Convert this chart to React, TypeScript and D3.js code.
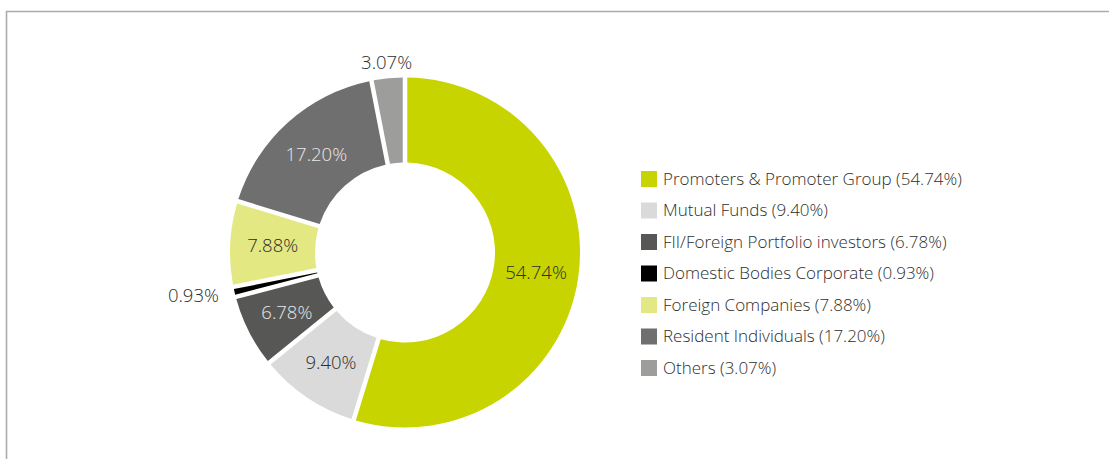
import * as d3 from "d3";

const categories = [
  "Promoters & Promoter Group",
  "Mutual Funds",
  "FII/Foreign Portfolio investors",
  "Domestic Bodies Corporate",
  "Foreign Companies",
  "Resident Individuals",
  "Others",
];
const shares = [54.74, 9.4, 6.78, 0.93, 7.88, 17.2, 3.07];
const colors = ["#c8d400", "#dadada", "#575756", "#000000", "#e3e883", "#706f6f", "#9d9d9c"];
const labelColors = ["#2e2e2d", "#2e2e2d", "#e8e8e8", "#2e2e2d", "#2e2e2d", "#e8e8e8", "#2e2e2d"];

const W = 1109;
const H = 459;
const cx = 405;
const cy = 252.5;
const outerR = 175;
const innerR = 90;
const gap = 4.5;
const font = "'Open Sans', sans-serif";

type Item = { name: string; value: number; color: string; labelColor: string };
const items: Item[] = categories.map((name, i) => ({
  name,
  value: shares[i],
  color: colors[i],
  labelColor: labelColors[i],
}));

export default function App() {
  const pie = d3.pie<Item>().value((d) => d.value).sort(null);
  const arcs = pie(items);

  const arc = d3
    .arc<d3.PieArcDatum<Item>>()
    .innerRadius(innerR)
    .outerRadius(outerR)
    .padAngle(gap / outerR)
    .padRadius(outerR);

  const outsideArc = d3.arc<d3.PieArcDatum<Item>>().innerRadius(191).outerRadius(191);

  const fmt = (v: number) => v.toFixed(2) + "%";

  // legend rows
  const legendY = d3.scaleLinear().domain([0, categories.length - 1]).range([179, 368]);

  return (
    <div style={{ position: "absolute", left: 0, top: 0 }}>
      <svg width={W} height={H} style={{ display: "block" }}>
        <rect width={W} height={H} fill="#fff" />
        <path d={`M6.5,${H} V11.5 H${W}`} fill="none" stroke="#ababab" strokeWidth={1.6} />
        <g transform={`translate(${cx},${cy})`}>
          {arcs.map((a, i) => (
            <path key={i} d={arc(a) ?? ""} fill={a.data.color} />
          ))}
          {arcs.map((a, i) => {
            const outside = a.data.value < 5;
            const mid = (a.startAngle + a.endAngle) / 2;
            const [x, y] = outside ? outsideArc.centroid(a) : arc.centroid(a);
            let anchor = "middle";
            if (outside && Math.abs(Math.sin(mid)) > 0.5) anchor = Math.sin(mid) < 0 ? "end" : "start";
            return (
              <text
                key={i}
                x={x}
                y={y}
                dy="0.35em"
                textAnchor={anchor}
                fontFamily={font}
                fontWeight={300}
                fontSize={18.5}
                fill={outside ? "#2e2e2d" : a.data.labelColor}
              >
                {fmt(a.data.value)}
              </text>
            );
          })}
        </g>
        <g>
          {items.map((d, i) => (
            <g key={i} transform={`translate(641,${legendY(i)})`}>
              <rect x={0} y={-8} width={16} height={16} fill={d.color} />
              <text
                x={22}
                y={0}
                dy="0.35em"
                fontFamily={font}
                fontWeight={300}
                fontSize={17}
                fill="#2e2e2d"
              >
                {`${d.name} (${fmt(d.value)})`}
              </text>
            </g>
          ))}
        </g>
      </svg>
    </div>
  );
}
